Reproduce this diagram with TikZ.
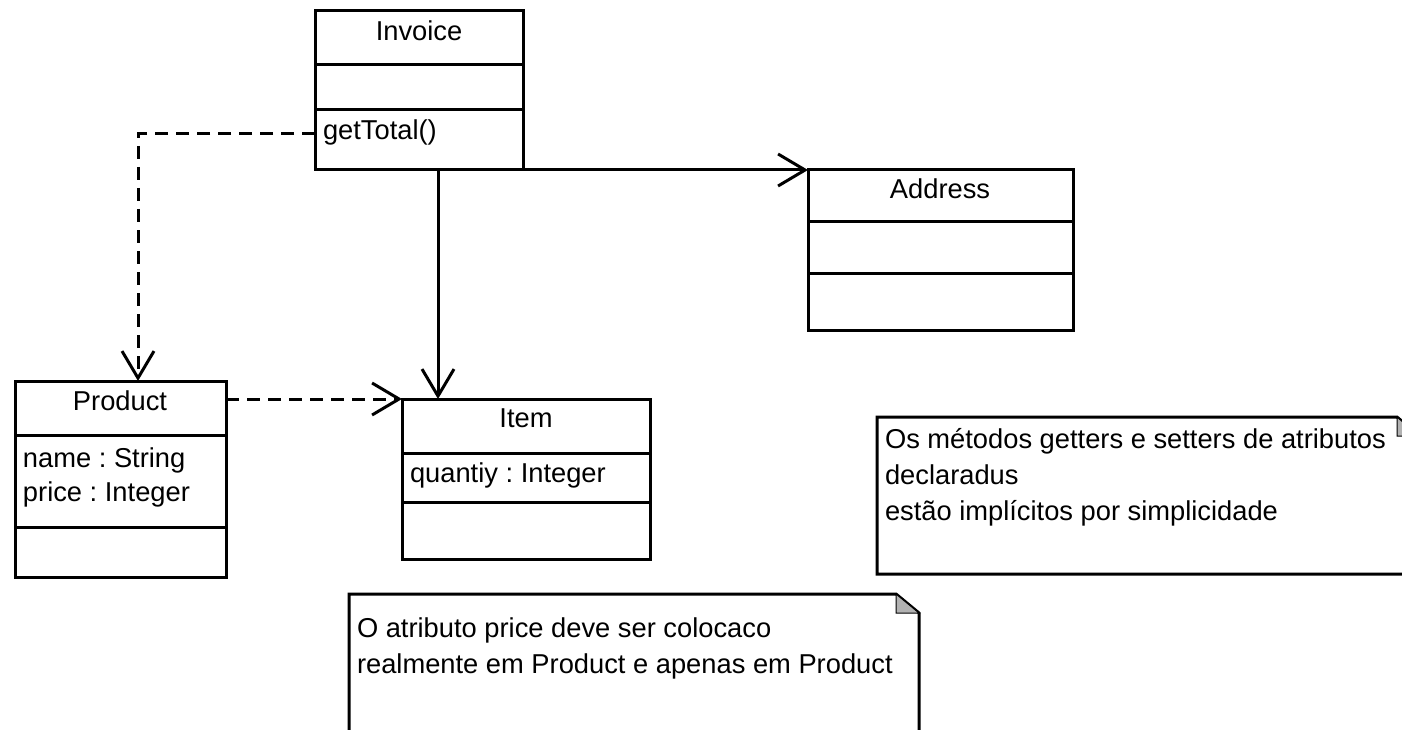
\documentclass[tikz,border=0pt]{standalone}
\usepackage{fontspec}
\setmainfont{Liberation Sans}
\usetikzlibrary{arrows.meta}
\frenchspacing
\begin{document}
\begin{tikzpicture}[x=1pt,y=-1pt,
  every node/.style={font=\fontsize{27.3}{32}\selectfont},
  classbox/.style={draw, line width=3pt, inner sep=0pt, outer sep=0pt, anchor=north west},
  divider/.style={line width=3pt},
  lbl/.style={inner sep=0pt, outer sep=0pt},
  assoc/.style={line width=3pt, -{Straight Barb[length=27pt,width=32pt,line width=3pt]}},
  dep/.style={assoc, dash pattern=on 13pt off 8pt},
  notebox/.style={line width=3pt, line join=miter},
  fold/.style={fill=black!30, draw=black, line width=1pt}]
\path[use as bounding box] (0,0) rectangle (1402,730);

% Invoice
\node[classbox, minimum width=208pt, minimum height=159pt] (invoice) at (315,11) {};
\draw[divider] (invoice.west |- 0,65) -- (invoice.east |- 0,65);
\draw[divider] (invoice.west |- 0,110) -- (invoice.east |- 0,110);
\node[lbl, anchor=base] (invT) at (419,41) {Invoice};
\node[lbl, anchor=base west] (gt) at (323,140) {getTotal()};

% Address
\node[classbox, minimum width=265pt, minimum height=160pt] (address) at (808,170) {};
\draw[divider] (address.west |- 0,221) -- (address.east |- 0,221);
\draw[divider] (address.west |- 0,273) -- (address.east |- 0,273);
\node[lbl, anchor=base] (addrT) at (940,199) {Address};

% Product
\node[classbox, minimum width=211pt, minimum height=196pt] (product) at (15,381) {};
\draw[divider] (product.west |- 0,435) -- (product.east |- 0,435);
\draw[divider] (product.west |- 0,527) -- (product.east |- 0,527);
\node[lbl, anchor=base] (prodT) at (120,410) {Product};
\node[lbl, anchor=base west] (pa1) at (23,467) {name : String};
\node[lbl, anchor=base west] (pa2) at (23,501) {price : Integer};

% Item
\node[classbox, minimum width=248pt, minimum height=160pt] (item) at (402,399) {};
\draw[divider] (item.west |- 0,453) -- (item.east |- 0,453);
\draw[divider] (item.west |- 0,502) -- (item.east |- 0,502);
\node[lbl, anchor=base] (itemT) at (526,427) {Item};
\node[lbl, anchor=base west] (ia1) at (410,482) {quantiy : Integer};

% Notes
\fill[white] (877,417) -- (1397,417) -- (1419,436) -- (1419,574) -- (877,574) -- cycle;
\draw[notebox] (877,417) -- (1397,417) -- (1419,436) -- (1419,574) -- (877,574) -- cycle;
\draw[fold] (1397,417) -- (1397,436) -- (1419,436) -- cycle;
\node[lbl, anchor=base west] (n1a) at (885,448) {Os métodos getters e setters de atributos};
\node[lbl, anchor=base west] (n1b) at (885,484) {declaradus};
\node[lbl, anchor=base west] (n1c) at (885,520) {estão implícitos por simplicidade};

\draw[notebox] (349,745) -- (349,594) -- (896,594) -- (919,613) -- (919,745);
\draw[fold] (896,594) -- (896,613) -- (919,613) -- cycle;
\node[lbl, anchor=base west] (n2a) at (357,637) {O atributo price deve ser colocaco};
\node[lbl, anchor=base west] (n2b) at (357,673) {realmente em Product e apenas em Product};

% Connectors
\draw[dep] (invoice.west |- 0,134) -| ([xshift=123pt]product.north west);
\draw[assoc] ([xshift=123pt]invoice.south west) -- ([xshift=36pt]item.north west);
\draw[assoc] (invoice.south east) -- (address.north west);
\draw[dep] (product.east |- item.north) -- (item.north west);
\end{tikzpicture}
\end{document}
